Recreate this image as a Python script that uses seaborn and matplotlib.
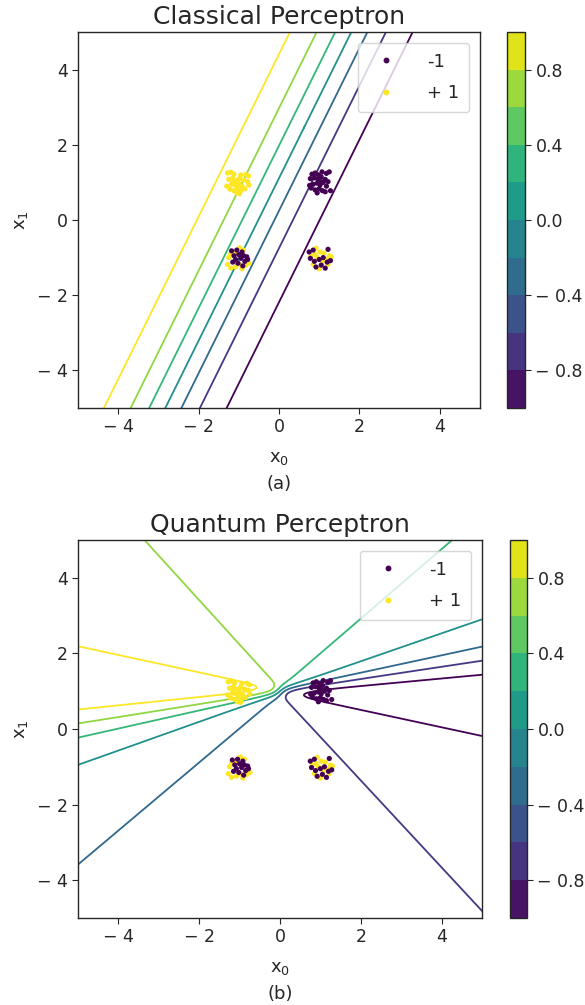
import numpy as np
import pandas as pd
import matplotlib
matplotlib.use("Agg")
import matplotlib.pyplot as plt
import seaborn as sns
from matplotlib.colors import ListedColormap, BoundaryNorm
from matplotlib.ticker import FuncFormatter, FixedLocator
from matplotlib.lines import Line2D
import matplotlib as mpl

# ---------------- data ----------------
# +1 class points
pos_x0 = [-1.28, -1.20, -1.12, -0.95, -0.82, -0.76, -1.25, -1.15, -1.05, -0.98, -0.88, -0.78, -1.30,
          -1.18, -1.08, -1.00, -0.92, -0.75, -1.22, -1.12, -1.02, -0.95, -0.85, -1.05, -0.98, -1.15,
          -1.25, -1.28, -1.20, -0.98, -1.10, -0.98, -0.82, -1.08, -0.74, -0.88, -1.20, -0.92,
          0.92, 1.02, 0.80, 0.90, 1.12, 1.25, 1.30, 0.95, 1.08, 1.18, 1.22, 0.85, 1.00]
pos_x1 = [1.25, 1.27, 1.22, 1.20, 1.21, 1.17, 1.08, 1.12, 1.05, 1.10, 1.06, 1.02, 0.90,
          0.95, 0.92, 0.97, 0.90, 0.93, 0.82, 0.78, 0.85, 0.78, 0.83, 0.72, 0.70, 1.00,
          -1.00, -1.18, -1.28, -0.74, -0.88, -1.18, -1.20, -1.25, -1.15, -0.80, -0.90, -1.30,
          -0.75, -0.85, -0.95, -0.92, -0.88, -0.95, -0.98, -1.00, -1.10, -1.05, -1.18, -1.18, -1.30]
# -1 class points
neg_x0 = [0.82, 0.90, 0.98, 1.07, 1.18, 1.25, 0.78, 0.88, 0.97, 1.05, 1.15, 1.22, 0.76,
          0.85, 0.95, 1.02, 1.10, 1.18, 0.80, 0.90, 1.00, 1.08, 1.15, 1.28, 0.95, 1.05,
          -1.18, -1.05, -0.92, -1.12, -1.00, -0.88, -0.80, -1.08, -0.95, -0.85, -1.15, -1.02, -0.90, -0.78,
          0.75, 0.85, 1.22, 0.78, 0.88, 1.00, 1.10, 1.20, 0.92, 1.05, 1.15, 1.28]
neg_x1 = [1.22, 1.25, 1.20, 1.28, 1.24, 1.28, 1.10, 1.12, 1.08, 1.15, 1.08, 1.02, 0.92,
          0.95, 0.98, 0.93, 1.00, 0.90, 0.85, 0.80, 0.83, 0.78, 0.75, 0.78, 0.72, 1.02,
          -0.82, -0.80, -0.85, -0.95, -0.92, -0.95, -0.98, -1.05, -1.02, -1.10, -1.12, -1.15, -1.22, -1.05,
          -0.85, -0.80, -0.78, -1.02, -1.10, -1.05, -1.00, -1.12, -1.25, -1.20, -1.28, -1.08]

# classical perceptron: tanh(w0*x0 + w1*x1 + b)
classical_w = [-0.6375, 0.295]
classical_b = -0.328

# quantum perceptron: output level read along directions (deg) around the crossing point
quantum_center = [0.0, 1.0]
quantum_angle = [5.7, 9.1, 12.95, 20.3, 42.6, 130.4, 167.0, 177.0, 186.3, 189.6, 193.5, 200.8, 222.0, 311.0, 347.05, 357.0]
quantum_level = [-0.75, -0.5, -0.25, 0.0, 0.25, 0.5, 0.75, 0.9, 0.75, 0.5, 0.25, 0.0, -0.25, -0.5, -0.75, -0.9]
quantum_blur = 0.11

contour_levels = [-0.75, -0.5, -0.25, 0.0, 0.25, 0.5, 0.75]
cbar_bounds = [-1.0, -0.8, -0.6, -0.4, -0.2, 0.0, 0.2, 0.4, 0.6, 0.8, 1.0]
cbar_ticks = [-0.8, -0.4, 0.0, 0.4, 0.8]
axis_ticks = [-4, -2, 0, 2, 4]
titles = ["Classical Perceptron", "Quantum Perceptron"]
panel_tags = ["(a)", "(b)"]
class_labels = ["-1", "+ 1"]

# ---------------- style ----------------
sns.set_style("ticks")
plt.rcParams["font.family"] = ["DejaVu Sans"]
plt.rcParams["mathtext.default"] = "regular"
TXT = "#262626"

pts = pd.DataFrame({
    "x0": pos_x0 + neg_x0,
    "x1": pos_x1 + neg_x1,
    "label": [1] * len(pos_x0) + [-1] * len(neg_x0),
})
palette = {-1: "#440154", 1: "#fde725"}

g = np.linspace(-6, 6, 961)
h = g[1] - g[0]
X0, X1 = np.meshgrid(g, g)
Z_classical = np.tanh(classical_w[0] * X0 + classical_w[1] * X1 + classical_b)
dx = X0 - quantum_center[0]
dy = X1 - quantum_center[1]
theta = np.degrees(np.arctan2(dy, dx)) % 360
Z_raw = np.interp(theta, quantum_angle, quantum_level, period=360)
# finite sampling resolution of the decision field near the crossing point
k = np.arange(-int(4 * quantum_blur / h), int(4 * quantum_blur / h) + 1) * h
kern = np.exp(-0.5 * (k / quantum_blur) ** 2)
kern /= kern.sum()
Z_quantum = np.apply_along_axis(lambda v: np.convolve(v, kern, mode="same"), 0, Z_raw)
Z_quantum = np.apply_along_axis(lambda v: np.convolve(v, kern, mode="same"), 1, Z_quantum)
fields = [Z_classical, Z_quantum]

def tick_fmt(v, _):
    return ("\u2212 " if v < 0 else "") + f"{abs(v):g}"

def cb_fmt(v, _):
    return ("\u2212 " if v < -1e-9 else "") + f"{abs(v):.1f}"

fig = plt.figure(figsize=(5.85, 10.05), dpi=100)
W, H = 585.0, 1005.0
ax_boxes = [(78, 32, 480, 408), (78, 540, 482, 918)]
cb_boxes = [(507, 32, 525, 408), (510, 540, 527, 918)]

cmap_bar = ListedColormap(plt.get_cmap("viridis")(np.linspace(0.05, 0.95, 10)))
norm_bar = BoundaryNorm(cbar_bounds, 10)

for i in range(2):
    l, t, rr, b = ax_boxes[i]
    ax = fig.add_axes([l / W, 1 - b / H, (rr - l) / W, (b - t) / H])
    ax.contour(X0, X1, fields[i], levels=contour_levels, cmap="viridis", linewidths=1.3)
    sns.scatterplot(data=pts, x="x0", y="x1", hue="label", palette=palette, s=14,
                    linewidth=0, legend=False, ax=ax, zorder=3)
    ax.set_xlim(-5, 5)
    ax.set_ylim(-5, 5)
    ax.xaxis.set_major_locator(FixedLocator(axis_ticks))
    ax.yaxis.set_major_locator(FixedLocator(axis_ticks))
    ax.xaxis.set_major_formatter(FuncFormatter(tick_fmt))
    ax.yaxis.set_major_formatter(FuncFormatter(tick_fmt))
    ax.tick_params(labelsize=12.5, colors=TXT, length=4)
    ax.set_xlabel("$x_0$\n" + panel_tags[i], fontsize=13, color=TXT, labelpad=9, linespacing=1.55)
    ax.set_ylabel("$x_1$", fontsize=13, color=TXT, labelpad=5)
    ax.set_title(titles[i], fontsize=18, color=TXT, pad=6)
    for sp in ax.spines.values():
        sp.set_color(TXT)
        sp.set_linewidth(1.0)
    handles = [Line2D([], [], marker="o", ls="", color=palette[-1], markersize=3.2),
               Line2D([], [], marker="o", ls="", color=palette[1], markersize=3.2)]
    leg = ax.legend(handles, class_labels, loc="upper right", fontsize=13,
                    handletextpad=1.3, labelspacing=0.75, borderpad=0.55,
                    borderaxespad=0.6, frameon=True)
    for txt in leg.get_texts():
        txt.set_color(TXT)

    l, t, rr, b = cb_boxes[i]
    cax = fig.add_axes([l / W, 1 - b / H, (rr - l) / W, (b - t) / H])
    sm = mpl.cm.ScalarMappable(norm=norm_bar, cmap=cmap_bar)
    cb = fig.colorbar(sm, cax=cax, boundaries=cbar_bounds, ticks=cbar_ticks)
    cb.ax.minorticks_off()
    cb.ax.yaxis.set_major_formatter(FuncFormatter(cb_fmt))
    cb.ax.tick_params(labelsize=12.5, colors=TXT, length=4)
    cb.outline.set_edgecolor(TXT)
    cb.outline.set_linewidth(1.0)

fig.savefig("out.png", dpi=100)
